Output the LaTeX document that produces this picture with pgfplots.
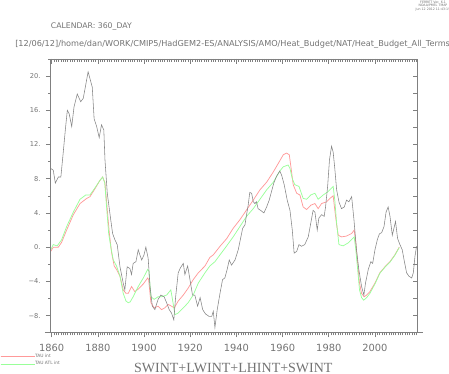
\documentclass[border=0pt]{standalone}
\usepackage{fontspec}
\setmainfont{DejaVu Sans}
\newfontfamily\serifttl{Liberation Serif}
\usepackage{pgfplots}
\pgfplotsset{compat=1.18}
\usepackage{pgfplotstable}
\definecolor{lred}{rgb}{1,0.6,0.6}
\definecolor{lgreen}{rgb}{0.6,1,0.6}
\definecolor{lgray}{rgb}{0.52,0.52,0.52}
\definecolor{axgray}{rgb}{0.5,0.5,0.5}
\definecolor{txtgray}{rgb}{0.45,0.45,0.45}

\pgfplotstableread{
x y
1859.6 9.2
1860.7 9.0
1861.6 7.5
1862.9 8.2
1864.0 8.2
1865.0 11.0
1866.0 13.9
1866.8 16.0
1867.6 15.6
1868.7 14.1
1869.7 16.4
1871.1 17.9
1872.6 17.0
1873.7 17.4
1875.8 20.5
1877.6 18.7
1878.4 15.0
1879.5 14.1
1880.6 12.8
1881.6 14.3
1882.6 13.7
1883.1 10.2
1884.1 6.3
1885.2 4.0
1886.4 1.6
1887.4 0.85
1888.4 0.3
1889.6 -2.3
1891.0 -4.2
1891.7 -5.0
1892.7 -2.3
1893.9 -2.5
1894.6 -3.2
1895.3 -1.9
1896.5 -1.7
1897.5 -0.3
1898.2 -0.9
1899.0 -1.5
1900.0 -0.9
1900.8 0.0
1901.8 -1.3
1902.6 -4.6
1903.6 -6.9
1904.7 -7.3
1906.1 -6.1
1907.3 -5.6
1908.7 -5.8
1909.8 -6.5
1910.9 -7.3
1911.9 -7.7
1912.9 -8.5
1913.7 -5.8
1914.8 -3.0
1915.8 -2.4
1917.0 -1.9
1917.7 -3.2
1918.9 -2.2
1919.9 -3.8
1921.0 -5.6
1922.0 -5.6
1923.2 -6.9
1924.3 -5.9
1925.4 -7.3
1926.6 -7.8
1928.2 -8.1
1929.3 -8.1
1930.0 -7.5
1930.7 -9.4
1931.7 -7.3
1932.9 -5.4
1934.0 -3.8
1935.0 -3.6
1936.0 -2.6
1936.9 -1.5
1937.9 -2.1
1939.4 -1.5
1940.8 -0.3
1941.8 1.0
1942.7 2.2
1943.7 2.6
1944.4 3.8
1945.1 4.9
1945.8 6.4
1946.6 6.3
1947.3 5.3
1948.0 5.1
1948.7 5.3
1949.4 4.5
1950.5 4.3
1951.9 4.0
1953.1 4.7
1954.2 5.5
1955.2 6.5
1956.2 7.5
1957.4 8.3
1958.8 8.9
1959.6 8.4
1960.7 7.3
1962.0 5.5
1963.2 4.3
1964.2 2.0
1965.0 -0.7
1966.1 -0.5
1967.1 0.3
1968.2 0.1
1969.6 0.3
1971.1 1.2
1972.2 2.8
1973.2 4.3
1974.0 4.1
1975.0 2.0
1975.7 3.4
1976.9 3.8
1978.0 3.6
1978.6 4.7
1979.5 7.1
1980.3 10.2
1981.2 11.8
1981.9 11.1
1982.6 9.2
1983.4 6.7
1984.4 5.3
1985.5 4.5
1986.7 4.7
1987.7 5.5
1988.7 5.3
1989.9 5.9
1990.9 3.2
1992.0 -0.3
1993.0 -2.6
1994.2 -4.6
1995.2 -5.6
1995.9 -4.2
1997.1 -2.6
1998.2 -1.7
1999.0 -1.9
2000.0 -0.3
2001.0 0.85
2001.9 1.55
2002.9 1.7
2003.9 2.4
2004.8 4.1
2005.7 4.7
2006.5 3.6
2007.5 1.4
2008.2 2.2
2008.9 3.0
2009.8 1.0
2010.8 0.3
2011.8 -0.3
2012.6 -1.5
2013.7 -3.0
2014.7 -3.4
2015.9 -3.6
2016.6 -3.0
2017.3 -1.1
2018.0 0.1
}\totaldata

\pgfplotstableread{
x y
1859.6 -0.5
1860.7 0.0
1862.9 0.0
1864.3 0.55
1866.5 2.0
1869.4 3.8
1872.3 5.1
1875.2 5.7
1876.6 5.9
1878.7 6.8
1880.9 7.8
1882.1 8.2
1883.1 7.5
1884.1 4.35
1885.0 1.6
1886.0 -0.7
1887.1 -2.2
1888.1 -2.6
1889.6 -3.4
1891.0 -5.0
1892.2 -5.4
1893.2 -5.4
1894.6 -4.6
1896.0 -5.2
1897.5 -4.9
1899.7 -4.3
1901.6 -3.6
1902.0 -3.8
1903.0 -6.5
1904.4 -7.1
1906.1 -6.9
1907.6 -7.3
1909.0 -7.1
1910.5 -6.7
1911.9 -6.9
1913.1 -7.1
1914.8 -6.3
1917.0 -5.6
1919.1 -4.8
1921.3 -3.8
1923.5 -3.0
1926.4 -2.2
1928.5 -1.2
1930.0 -0.9
1932.9 0.1
1935.8 1.0
1938.6 2.2
1941.5 3.2
1944.4 4.35
1947.3 5.5
1950.2 6.7
1953.1 7.6
1956.0 8.8
1958.8 10.1
1960.3 10.8
1961.7 11.0
1962.9 10.8
1963.6 9.4
1964.6 7.3
1966.1 6.3
1967.5 6.1
1968.9 4.7
1970.4 4.4
1972.2 4.9
1974.0 5.1
1975.4 4.5
1976.9 5.1
1979.0 5.3
1980.5 5.7
1981.9 6.0
1982.6 4.35
1983.4 2.6
1984.1 1.4
1985.5 1.2
1987.7 1.3
1989.9 1.6
1991.0 2.0
1991.7 0.5
1992.5 -1.9
1993.3 -4.2
1994.2 -5.4
1995.3 -5.8
1996.4 -5.6
1997.8 -5.2
2000.0 -4.2
2002.1 -3.0
2004.3 -2.3
2006.5 -1.7
2008.6 -0.9
2010.5 0.0
}\taudata

\pgfplotstableread{
x y
1859.6 -0.3
1860.7 0.3
1862.4 0.15
1864.3 0.85
1866.5 2.4
1869.4 4.1
1872.3 5.6
1874.8 6.1
1876.6 6.1
1878.7 6.9
1880.9 7.8
1882.1 8.2
1883.0 7.5
1883.8 4.7
1884.7 1.6
1885.7 -0.1
1886.7 -1.5
1888.1 -2.2
1889.6 -3.4
1891.0 -5.4
1892.2 -6.3
1893.2 -6.5
1894.0 -6.4
1895.3 -5.8
1897.5 -4.6
1899.7 -3.6
1901.6 -2.6
1902.1 -2.8
1903.0 -5.8
1904.4 -6.1
1906.1 -5.8
1907.6 -5.8
1909.8 -5.6
1911.6 -5.0
1912.2 -5.9
1913.4 -7.9
1914.8 -7.7
1917.0 -7.1
1919.1 -6.5
1921.3 -5.6
1923.5 -4.2
1926.4 -3.0
1928.5 -2.2
1930.7 -1.7
1932.9 -0.9
1935.8 0.15
1938.6 1.2
1941.5 2.4
1944.4 3.6
1947.3 4.5
1950.2 5.6
1953.1 6.7
1956.0 7.6
1958.8 8.9
1960.3 9.4
1962.4 9.6
1963.2 9.2
1964.2 8.0
1965.3 7.3
1967.1 7.1
1968.9 5.7
1970.4 5.6
1972.2 6.1
1974.0 6.3
1975.4 5.6
1977.6 6.1
1979.7 6.5
1981.9 7.1
1982.6 5.5
1983.4 2.8
1984.4 0.3
1986.2 0.15
1988.4 0.5
1991.0 1.2
1991.7 -0.3
1992.5 -2.6
1993.3 -5.0
1994.2 -5.9
1995.1 -6.2
1996.4 -5.9
1997.8 -5.4
2000.0 -4.3
2002.1 -3.05
2004.3 -2.35
2006.5 -1.75
2008.6 -0.95
2010.5 -0.05
}\atldata

\begin{document}
\begin{tikzpicture}
\useasboundingbox (0,0) rectangle (336.75pt,280.5pt);
% texts
\node[align=center, inner sep=0pt, text=txtgray, font=\fontsize{2.4}{2.6}\selectfont] at (324.75pt,276pt) {FERRET Ver. 6.1\\NOAA/PMEL TMAP\\Jun 12 2012 11:43:15};
\node[anchor=west, inner sep=0pt, text=txtgray, font=\fontsize{5.8}{7}\selectfont] at (38pt,260.5pt) {CALENDAR: 360\_DAY};
\node[anchor=west, inner sep=0pt, text=txtgray] at (11.25pt,247.5pt) {\resizebox{326pt}{!}{[12/06/12]/home/dan/WORK/CMIP5/HadGEM2-ES/ANALYSIS/AMO/Heat\_Budget/NAT/Heat\_Budget\_All\_Terms}};
\node[inner sep=0pt, text=txtgray, font=\serifttl\fontsize{10.5}{12}\selectfont] at (175pt,4.3pt) {SWINT+LWINT+LHINT+SWINT};

\begin{axis}[
  at={(38.025pt,30.975pt)}, anchor=south west,
  scale only axis, width=275.25pt, height=205.3pt,
  xmin=1859.6, xmax=2018.5, ymin=-10, ymax=22,
  clip=false,
  axis line style={axgray, line width=0.5pt},
  tick style={axgray, line width=0.45pt},
  tick align=outside, tick pos=left,
  major tick length=3.6pt, minor tick length=2pt,
  xtick={1860,1880,1900,1920,1940,1960,1980,2000},
  xticklabels={1860,1880,1900,1920,1940,1960,1980,2000},
  minor xtick={1860,1861,...,2018},
  ytick={-8,-4,0,4,8,12,16,20},
  yticklabels={−8.,−4.,0.,4.,8.,12.,16.,20.},
  minor ytick={-10,-6,-2,2,6,10,14,18,22},
  xticklabel style={text=txtgray, font=\fontsize{7.4}{8}\selectfont, inner sep=0pt, yshift=-4.8pt},
  yticklabel style={text=txtgray, font=\fontsize{5}{6}\selectfont, inner sep=0pt, xshift=-3.8pt},
  legend style={at={(axis description cs:-0.1381,-0.077)}, anchor=north west, draw=none, fill=none,
    inner sep=0pt, font=\fontsize{3.3}{3.6}\selectfont, text=txtgray, row sep=1.6pt,
    cells={anchor=west}, nodes={inner sep=0pt, text=txtgray}},
  legend image code/.code={\draw[#1, line width=0.5pt] (0pt,0pt) -- (21.5pt,0pt); \path (0pt,0pt) -- (25.5pt,0pt);},
]
\draw[axgray, line width=0.5pt] ([xshift=-4.3pt]rel axis cs:0,0) -- ([xshift=3.8pt]rel axis cs:1,0);
\addplot[lred, line width=0.55pt] table[x=x,y=y] {\taudata};
\addlegendentry{TAU int}
\addplot[lgreen, line width=0.55pt] table[x=x,y=y] {\atldata};
\addlegendentry{TAU ATL int}
\addplot[lgray, line width=0.42pt, forget plot] table[x=x,y=y] {\totaldata};
\end{axis}

\begin{axis}[
  at={(38.025pt,30.975pt)}, anchor=south west,
  scale only axis, width=275.25pt, height=205.3pt,
  xmin=1859.6, xmax=2018.5, ymin=-10, ymax=22,
  axis line style={axgray, line width=0.5pt},
  tick style={axgray, line width=0.45pt},
  tick align=inside, tick pos=right,
  major tick length=3.6pt, minor tick length=2pt,
  xtick={1860,1880,1900,1920,1940,1960,1980,2000},
  xticklabels={},
  minor xtick={1860,1861,...,2018},
  ytick={-10,-8,...,22},
  yticklabels={},
  major y tick style={/pgfplots/major tick length=3.2pt},
]
\end{axis}
\end{tikzpicture}
\end{document}
